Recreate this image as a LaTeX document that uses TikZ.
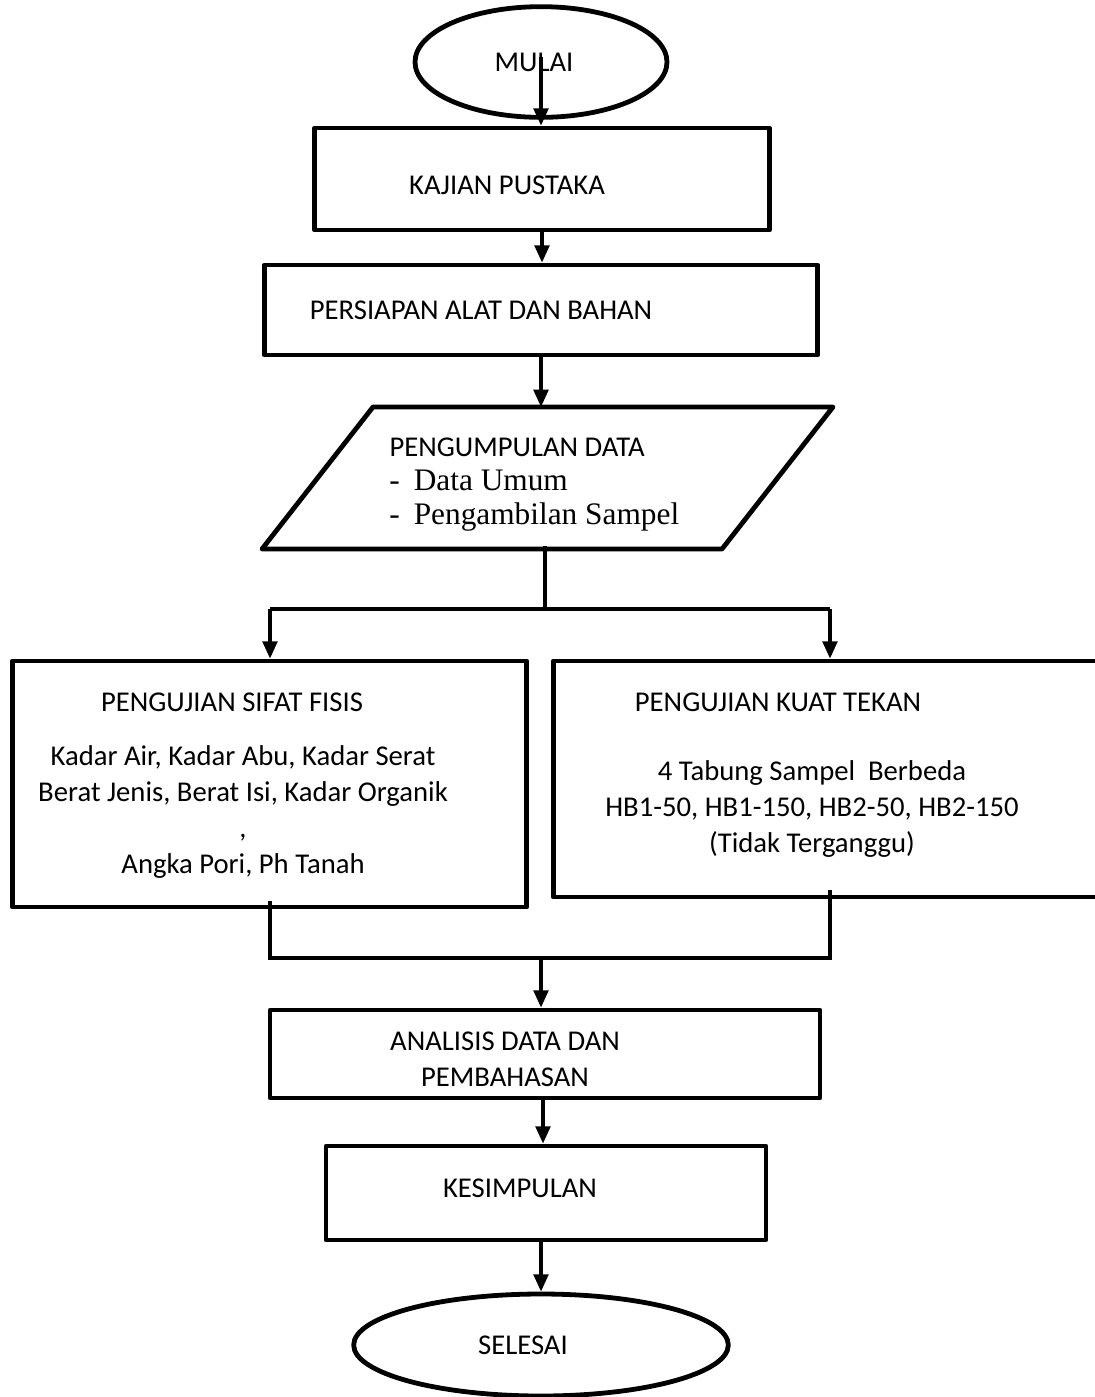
\documentclass[tikz,border=0pt]{standalone}
\usepackage{fontspec}
\setmainfont{Carlito}
\newfontfamily\timesfont{Liberation Serif}
\usetikzlibrary{arrows.meta,shapes.geometric}

\tikzset{
  boxline/.style={draw,line width=3.6pt,line join=round},
  kotak/.style={boxline,rectangle,inner sep=0pt},
  oval/.style={boxline,ellipse,inner sep=0pt},
  garis/.style={line width=3.2pt},
  panah/.style={line width=2.6pt,-{Triangle[length=13pt,width=11pt]}},
  teks/.style={font=\fontsize{21.5}{27}\selectfont,align=center,inner sep=0pt},
}

\begin{document}
\begin{tikzpicture}[x=0.75pt,y=-0.75pt]
      \useasboundingbox (0,0) rectangle (1095,1397);
      \clip (0,0) rectangle (1095,1397);
      % bentuk
      \node[oval,minimum width=189pt,minimum height=83pt](mulai) at (541,62) {};
      \node[kotak,minimum width=341pt,minimum height=76.5pt](kajian) at (542,179) {};
      \node[kotak,minimum width=415pt,minimum height=67.5pt](persiapan) at (541,310) {};
      \coordinate(pg1) at (373,407);
      \coordinate(pg2) at (833,407);
      \coordinate(pg3) at (722,549);
      \coordinate(pg4) at (262,549);
      \draw[boxline] (pg1)--(pg2)--(pg3)--(pg4)--cycle;
      \coordinate(pg-n) at (541,407);
      \coordinate(pg-s) at (545,546);
      \node[kotak,minimum width=386pt,minimum height=184.5pt](sifat) at (269.5,784) {};
      \node[kotak,minimum width=425pt,minimum height=177pt](kuat) at (836.5,779) {};
      \node[kotak,minimum width=412.5pt,minimum height=66pt](analisis) at (545,1054) {};
      \node[kotak,minimum width=330pt,minimum height=70.5pt](kesimpulan) at (546,1193) {};
      \node[oval,minimum width=281pt,minimum height=76.5pt](selesai) at (541,1345) {};
      % teks
      \node[teks](t-mulai) at (534,62) {MULAI};
      \node[teks](t-kajian) at (507,185) {KAJIAN PUSTAKA};
      \node[teks](t-persiapan) at (481,310) {PERSIAPAN ALAT DAN BAHAN};
      \node[teks](t-data) at (517,447) {PENGUMPULAN DATA};
      \node[inner sep=0pt,anchor=west,align=left,font=\timesfont\fontsize{23.5}{25.5}\selectfont](t-butir) at (389,501)
        {-\hspace{0.45em}Data Umum\\-\hspace{0.45em}Pengambilan Sampel};
      \node[teks](t-sifat) at (232,702) {PENGUJIAN SIFAT FISIS};
      \node[teks](t-sifat2) at (243,812) {Kadar Air, Kadar Abu, Kadar Serat\\Berat Jenis, Berat Isi, Kadar Organik\\,\\Angka Pori, Ph Tanah};
      \node[teks](t-kuat) at (778,702) {PENGUJIAN KUAT TEKAN};
      \node[teks](t-kuat2) at (812,809) {4 Tabung Sampel\ \ Berbeda\\HB1-50, HB1-150, HB2-50, HB2-150\\(Tidak Terganggu)};
      \node[teks](t-analisis) at (505,1059) {ANALISIS DATA DAN\\PEMBAHASAN};
      \node[teks](t-kesimpulan) at (520,1188) {KESIMPULAN};
      \node[teks](t-selesai) at (523,1345) {SELESAI};
      % penghubung
      \coordinate(cabang) at (545,609);
      \coordinate(ki-atas) at (270,609);
      \coordinate(ka-atas) at (830,609);
      \coordinate(ki-bawah) at (270,958);
      \coordinate(ka-bawah) at (830,958);
      \coordinate(gabung) at (541,958);
      \draw[panah] ([yshift=4pt]mulai.center)--(mulai.center |- kajian.north);
      \draw[panah] (kajian.south)--(kajian.south |- persiapan.north);
      \draw[panah] (persiapan.south)--(pg-n);
      \draw[garis] (pg-s)--(cabang);
      \draw[garis] (ki-atas)--(ka-atas);
      \draw[panah] (ki-atas)--(ki-atas |- sifat.north);
      \draw[panah] (ka-atas)--(ka-atas |- kuat.north);
      \draw[garis] ([yshift=6pt]ki-bawah |- sifat.south)--(ki-bawah)--(ka-bawah)--([yshift=7pt]ka-bawah |- kuat.south);
      \draw[panah] (gabung)--(gabung |- analisis.north);
      \draw[panah] ([xshift=1.5pt]gabung |- analisis.south)--([xshift=1.5pt]gabung |- kesimpulan.north);
      \draw[panah] (selesai.north |- kesimpulan.south)--(selesai.north);
    \end{tikzpicture}
\end{document}
